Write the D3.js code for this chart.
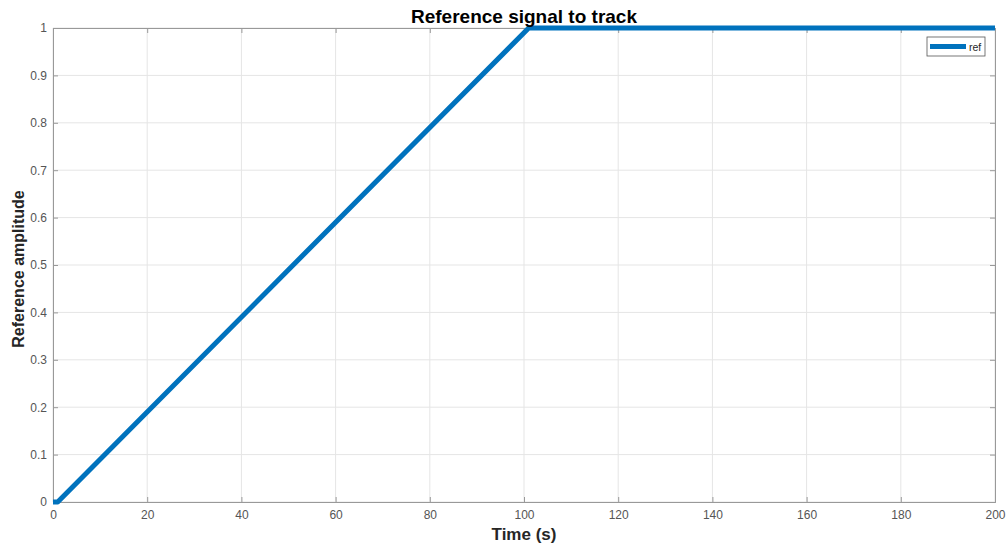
<!DOCTYPE html>
<html><head><meta charset="utf-8">
<script src="https://cdn.jsdelivr.net/npm/d3@7"></script>
<style>body{margin:0;background:#fff;}svg{display:block;font-family:"Liberation Sans",Arial,sans-serif;}</style>
</head><body>
<svg id="c" width="1006" height="545"></svg>
<script>
const timeVals = [0, 1, 101, 200];
const refVals = [0, 0, 1, 1];
const xTicks = [0,20,40,60,80,100,120,140,160,180,200];
const yTicks = [0,0.1,0.2,0.3,0.4,0.5,0.6,0.7,0.8,0.9,1];
const titleText = "Reference signal to track";
const xLabel = "Time (s)";
const yLabel = "Reference amplitude";
const seriesName = "ref";

const svg = d3.select("#c");
const m = {l:53, r:995, t:28, b:502};
const x = d3.scaleLinear().domain([0,200]).range([m.l, m.r]);
const y = d3.scaleLinear().domain([0,1]).range([m.b, m.t]);

// grid
svg.append("g").selectAll("line").data(xTicks).join("line")
  .attr("x1",d=>x(d)).attr("x2",d=>x(d)).attr("y1",m.t).attr("y2",m.b)
  .attr("stroke","#e5e5e5").attr("stroke-width",1);
svg.append("g").selectAll("line").data(yTicks).join("line")
  .attr("y1",d=>y(d)).attr("y2",d=>y(d)).attr("x1",m.l).attr("x2",m.r)
  .attr("stroke","#e5e5e5").attr("stroke-width",1);

// axes
svg.append("g").attr("transform",`translate(0,${m.b})`)
  .call(d3.axisBottom(x).tickValues(xTicks).tickSize(-5).tickPadding(8).tickFormat(d3.format("d")));
svg.append("g").attr("transform",`translate(${m.l},0)`)
  .call(d3.axisLeft(y).tickValues(yTicks).tickSize(-5).tickPadding(6).tickFormat(d=>d3.format("")(d)));
svg.append("g").attr("transform",`translate(0,${m.t})`)
  .call(d3.axisTop(x).tickValues(xTicks).tickSize(-5).tickFormat(""));
svg.append("g").attr("transform",`translate(${m.r},0)`)
  .call(d3.axisRight(y).tickValues(yTicks).tickSize(-5).tickFormat(""));
svg.selectAll(".domain").attr("stroke","#999");
svg.selectAll(".tick line").attr("stroke","#999");
svg.selectAll(".tick text").attr("fill","#555").style("font-size","12px").style("font-family","'Liberation Sans',Arial,sans-serif");

// line
const line = d3.line().x((d,i)=>x(timeVals[i])).y(d=>y(d));
svg.append("path").datum(refVals).attr("d",line)
  .attr("fill","none").attr("stroke","#0072BD").attr("stroke-width",5).attr("stroke-linejoin","round");

// title and labels
svg.append("text").attr("x",524).attr("y",23).attr("text-anchor","middle")
  .style("font-size","19px").style("font-weight","bold").attr("fill","#000").text(titleText);
svg.append("text").attr("x",(m.l+m.r)/2).attr("y",540).attr("text-anchor","middle")
  .style("font-size","17px").style("font-weight","bold").attr("fill","#262626").text(xLabel);
svg.append("text").attr("transform",`translate(24,${(m.t+m.b)/2 + 4}) rotate(-90)`).attr("text-anchor","middle")
  .style("font-size","16px").style("font-weight","bold").attr("fill","#262626").text(yLabel);

// legend
const lg = svg.append("g");
lg.append("rect").attr("x",927).attr("y",37).attr("width",58).attr("height",19)
  .attr("fill","#fff").attr("stroke","#555").attr("stroke-width",0.8);
lg.append("line").attr("x1",930).attr("x2",966).attr("y1",46.5).attr("y2",46.5)
  .attr("stroke","#0072BD").attr("stroke-width",5);
lg.append("text").attr("x",969).attr("y",50.5).style("font-size","10.5px").attr("fill","#262626").text(seriesName);
</script>
</body></html>
